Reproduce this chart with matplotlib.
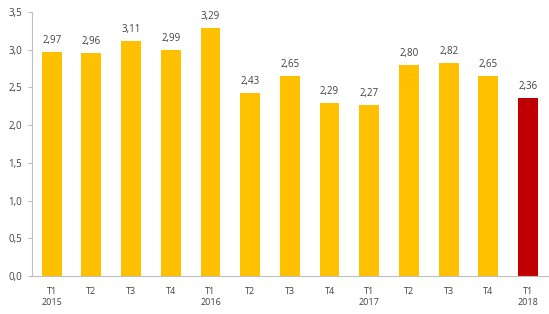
import matplotlib
matplotlib.use("Agg")
import matplotlib.pyplot as plt

quarters = ["T1", "T2", "T3", "T4", "T1", "T2", "T3", "T4", "T1", "T2", "T3", "T4", "T1"]
years = ["2015", "", "", "", "2016", "", "", "", "2017", "", "", "", "2018"]
values = [2.97, 2.96, 3.11, 2.99, 3.29, 2.43, 2.65, 2.29, 2.27, 2.80, 2.82, 2.65, 2.36]
colors = ["#FFC000"] * 12 + ["#C00000"]

plt.rcParams["font.family"] = ["Open Sans", "DejaVu Sans"]

fig = plt.figure(figsize=(5.49, 3.14), dpi=100)
ax = fig.add_axes([0.058, 0.121, 0.94, 0.841])

x = range(len(values))
ax.bar(x, values, width=0.5, color=colors)
for xi, v in zip(x, values):
    ax.text(xi, v + 0.08, f"{v:.2f}".replace(".", ","), ha="center", va="bottom",
            fontsize=7, color="#404040")

labels = [f"{q}\n{y}" if y else q for q, y in zip(quarters, years)]
ax.set_xticks(list(x))
ax.set_xticklabels(labels, fontsize=6.5, color="#404040", va="top")
ax.set_xlim(-0.5, len(values) - 0.5)
ax.set_ylim(0, 3.5)
ax.set_yticks([i * 0.5 for i in range(8)])
ax.set_yticklabels([f"{i * 0.5:.1f}".replace(".", ",") for i in range(8)], fontsize=7, color="#404040")

for side in ["top", "right"]:
    ax.spines[side].set_visible(False)
for side in ["left", "bottom"]:
    ax.spines[side].set_color("#BFBFBF")
ax.tick_params(axis="x", length=0, pad=8)
ax.tick_params(axis="y", length=3, color="#BFBFBF", pad=4)

fig.savefig("out.png", dpi=100)
